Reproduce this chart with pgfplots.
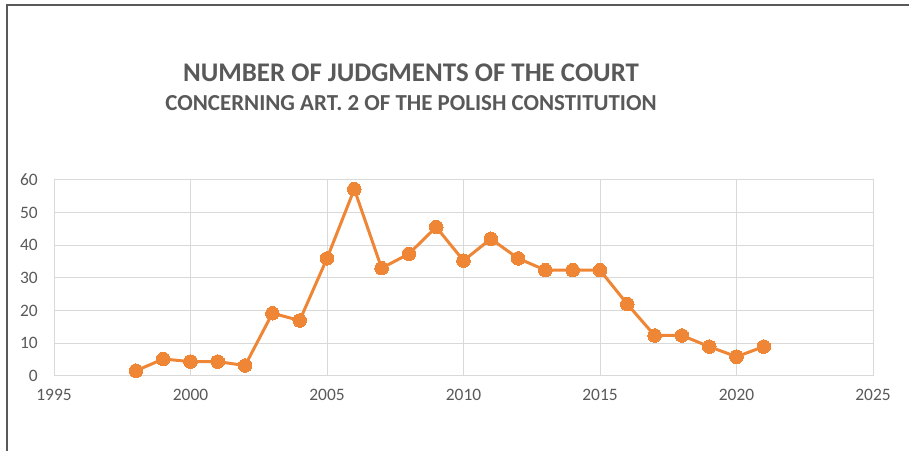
\documentclass[border=0pt]{standalone}
\usepackage{pgfplots}
\pgfplotsset{compat=1.18}
\usepackage{fontspec}
\setmainfont{Carlito}
\definecolor{txt}{HTML}{595959}
\definecolor{grd}{HTML}{D9D9D9}
\definecolor{org}{HTML}{EF8636}
\begin{document}
\begin{tikzpicture}[x=1bp,y=1bp]
\path[use as bounding box] (0,0) rectangle (909,451);
\draw[txt, line width=1.2bp] (7,0) -- (7,446) -- (909,446);
\node[txt, font=\fontsize{27}{31}\selectfont\bfseries] at (411,378) {NUMBER OF JUDGMENTS OF THE COURT};
\node[txt, font=\fontsize{23}{27}\selectfont\bfseries] at (411,348) {CONCERNING ART. 2 OF THE POLISH CONSTITUTION};
\begin{axis}[
  at={(54bp,75bp)}, anchor=south west,
  scale only axis, width=819bp, height=196bp,
  xmin=1995, xmax=2025, ymin=0, ymax=60,
  xtick={1995,2000,...,2025}, ytick={0,10,...,60},
  grid=major, grid style={grd, line width=1bp},
  axis line style={grd, line width=1bp},
  major tick length=0pt,
  ticklabel style={txt, font=\fontsize{17.5}{20}\selectfont},
  /pgf/number format/assume math mode=true,
  /pgf/number format/1000 sep={},
  yticklabel style={anchor=east, inner sep=0pt, xshift=-16bp},
  xticklabel style={anchor=north, inner sep=0pt, yshift=-13bp},
  clip=false,
]
\addplot[org, line width=3bp, mark=*, mark size=6.8bp, mark options={fill=org, draw=org, line width=0pt}] coordinates {
(1998,1.6) (1999,5.2) (2000,4.4) (2001,4.4) (2002,3.2) (2003,19.2) (2004,17) (2005,36) (2006,57.2) (2007,33) (2008,37.4) (2009,45.6) (2010,35.3) (2011,42) (2012,36) (2013,32.4) (2014,32.4) (2015,32.4) (2016,22) (2017,12.4) (2018,12.4) (2019,9) (2020,5.9) (2021,9)
};
\end{axis}
\end{tikzpicture}
\end{document}
